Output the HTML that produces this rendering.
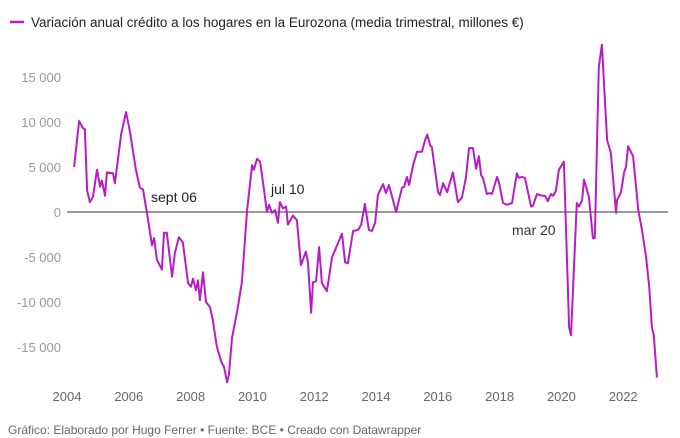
<!DOCTYPE html>
<html><head><meta charset="utf-8"><style>
body{margin:0;background:#fff;font-family:"Liberation Sans",sans-serif}
svg{display:block}
</style></head><body>
<svg id="c" width="680" height="438">
<g>
<line x1="10" y1="22" x2="24" y2="22" stroke="#b81cc4" stroke-width="2.5"/>
<text x="31" y="27" font-size="13.5" fill="#222">Variación anual crédito a los hogares en la Eurozona (media trimestral, millones €)</text>
</g>
<g id="yax"></g>
<g id="xax"></g>
<line id="zero" stroke="#333" stroke-width="1"/>
<path id="ln" fill="none" stroke="#b81cc4" stroke-width="2" stroke-linejoin="round"/>
<text x="151" y="202" font-size="14" fill="#222">sept 06</text>
<text x="271" y="194" font-size="14" fill="#222">jul 10</text>
<text x="512" y="235" font-size="14" fill="#333">mar 20</text>
<text x="8" y="434" font-size="12" fill="#666">Gráfico: Elaborado por Hugo Ferrer • Fuente: BCE • Creado con Datawrapper</text>
</svg>
<script>
const years=[2004.23,2004.39,2004.52,2004.58,2004.65,2004.74,2004.84,2004.97,2005.07,2005.13,2005.23,2005.29,2005.49,2005.55,2005.75,2005.91,2006.04,2006.23,2006.36,2006.46,2006.59,2006.75,2006.82,2006.91,2007.07,2007.14,2007.23,2007.40,2007.49,2007.62,2007.75,2007.92,2008.01,2008.08,2008.17,2008.24,2008.30,2008.40,2008.50,2008.63,2008.72,2008.85,2009.01,2009.08,2009.18,2009.24,2009.34,2009.50,2009.66,2009.83,2009.99,2010.05,2010.15,2010.25,2010.38,2010.47,2010.54,2010.63,2010.73,2010.83,2010.89,2010.99,2011.09,2011.15,2011.31,2011.44,2011.57,2011.73,2011.80,2011.90,2011.96,2012.06,2012.16,2012.25,2012.41,2012.58,2012.74,2012.90,2013.00,2013.09,2013.26,2013.42,2013.52,2013.64,2013.77,2013.87,2013.97,2014.06,2014.23,2014.32,2014.42,2014.65,2014.84,2014.91,2015.00,2015.07,2015.20,2015.33,2015.49,2015.59,2015.66,2015.75,2015.81,2016.01,2016.07,2016.17,2016.30,2016.49,2016.65,2016.78,2016.91,2017.01,2017.14,2017.24,2017.33,2017.40,2017.46,2017.59,2017.69,2017.75,2017.92,2017.98,2018.11,2018.24,2018.40,2018.56,2018.62,2018.72,2018.82,2019.02,2019.08,2019.21,2019.37,2019.47,2019.56,2019.66,2019.73,2019.82,2019.92,2020.08,2020.25,2020.31,2020.50,2020.57,2020.67,2020.73,2020.89,2021.02,2021.08,2021.21,2021.31,2021.48,2021.60,2021.77,2021.80,2021.93,2022.03,2022.09,2022.16,2022.32,2022.49,2022.61,2022.74,2022.84,2022.93,2022.99,2023.09];
const values=[5000,10100,9300,9200,2400,1100,1700,4700,2800,3500,1800,4400,4300,3200,8600,11100,8900,4700,2700,2500,-100,-3700,-2900,-5300,-6400,-2300,-2300,-7200,-4600,-2800,-3400,-7900,-8300,-7400,-8700,-7600,-9800,-6700,-10000,-10600,-12000,-15000,-16800,-17200,-18900,-18100,-14000,-11200,-7800,200,5200,4700,5900,5600,2400,0,800,-100,200,-1200,1100,400,600,-1400,-400,-900,-5900,-4400,-5600,-11200,-7800,-7700,-3900,-7900,-8800,-5000,-3700,-2400,-5600,-5700,-2100,-2000,-1400,900,-2000,-2100,-1200,1900,3100,2100,3000,0,2700,2800,3900,3000,5200,6700,6700,8000,8600,7400,7200,2200,1900,3200,2200,4400,1100,1600,3800,7100,7100,4800,6200,4100,3800,2000,2100,2000,3900,3300,1000,800,1000,4300,3800,3900,3800,600,700,2000,1800,1800,1200,2000,1800,2300,4700,5600,-12800,-13700,1000,600,1300,3600,1700,-2900,-2900,16100,18600,8000,6600,-100,1300,2200,4400,5000,7300,6200,200,-2000,-5000,-8300,-12800,-13700,-18400];
const yTicks=[15000,10000,5000,0,-5000,-10000,-15000];
const yTickLabels=["15 000","10 000","5 000","0","-5 000","-10 000","-15 000"];
const xTicks=[2004,2006,2008,2010,2012,2014,2016,2018,2020,2022];
const xTickLabels=["2004","2006","2008","2010","2012","2014","2016","2018","2020","2022"];
const NS="http://www.w3.org/2000/svg";
const xs=y=>67+(y-2004)*30.9;
const ys=v=>212-v*0.009;
const yax=document.getElementById('yax'),xax=document.getElementById('xax');
yTicks.forEach((t,i)=>{const e=document.createElementNS(NS,'text');


e.setAttribute('x',61);e.setAttribute('y',ys(t)+5);e.setAttribute('text-anchor','end');e.setAttribute('font-size','13');e.setAttribute('fill','#999');e.textContent=yTickLabels[i];yax.appendChild(e);});
xTicks.forEach((t,i)=>{const e=document.createElementNS(NS,'text');


e.setAttribute('x',xs(t));e.setAttribute('y',401);e.setAttribute('text-anchor','middle');e.setAttribute('font-size','13');e.setAttribute('fill','#666');e.textContent=xTickLabels[i];xax.appendChild(e);});
const z=document.getElementById('zero');z.setAttribute('x1',67);z.setAttribute('x2',668);z.setAttribute('y1',ys(0));z.setAttribute('y2',ys(0));
document.getElementById('ln').setAttribute('d',years.map((y,i)=>(i?'L':'M')+xs(y).toFixed(1)+','+ys(values[i]).toFixed(1)).join(''));
</script>
</body></html>
